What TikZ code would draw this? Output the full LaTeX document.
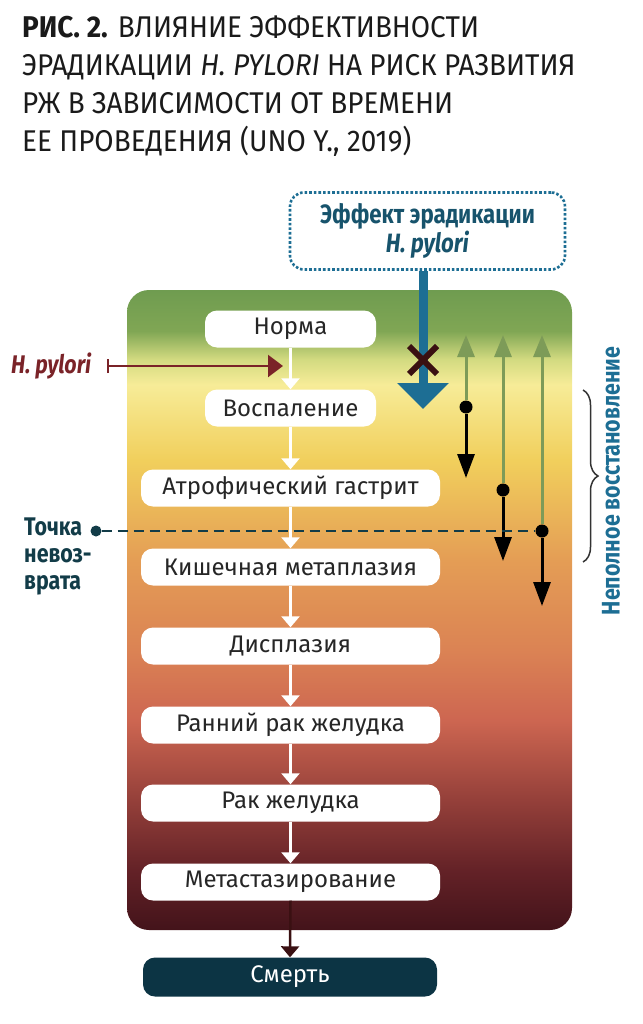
\documentclass[tikz,border=0pt]{standalone}
\usepackage{fontspec}
\setmainfont{Fira Sans}
\newfontfamily\narrowfont[FakeStretch=0.84]{Fira Sans}
\newfontfamily\titlefont[FakeStretch=0.93]{Fira Sans}
\usepackage{xcolor}
\usetikzlibrary{arrows.meta,positioning,shapes.misc,decorations.pathreplacing}
\definecolor{stageText}{HTML}{262626}
\definecolor{deathBlue}{HTML}{0C3444}
\definecolor{effectBlue}{HTML}{1D6E94}
\definecolor{labelTeal}{HTML}{17536C}
\definecolor{pyloriRed}{HTML}{7A2328}
\definecolor{crossBrown}{HTML}{3A1012}
\definecolor{recoverGreen}{HTML}{7D9B58}
\definecolor{pointTeal}{HTML}{123C48}
\definecolor{titleBlack}{HTML}{1A1A1A}
\pgfdeclareverticalshading{riskshade}{100bp}{%
  color(0bp)=(rgb,255:red,67;green,19;blue,26);
  color(25bp)=(rgb,255:red,67;green,19;blue,26);
  color(29.7bp)=(rgb,255:red,100;green,34;blue,39);
  color(35.2bp)=(rgb,255:red,149;green,64;blue,58);
  color(41.4bp)=(rgb,255:red,205;green,102;blue,81);
  color(46.9bp)=(rgb,255:red,219;green,131;blue,84);
  color(53.9bp)=(rgb,255:red,228;green,157;blue,85);
  color(61.7bp)=(rgb,255:red,241;green,207;blue,92);
  color(67.6bp)=(rgb,255:red,247;green,236;blue,152);
  color(69.6bp)=(rgb,255:red,210;green,218;blue,128);
  color(71.8bp)=(rgb,255:red,128;green,166;blue,84);
  color(75bp)=(rgb,255:red,111;green,156;blue,80);
  color(100bp)=(rgb,255:red,111;green,156;blue,80)}

\begin{document}
\begin{tikzpicture}[
    x=1pt,y=-1pt,
    stage/.style={rectangle,fill=white,rounded corners=12pt,
                  minimum width=299pt,minimum height=37pt,inner sep=0pt,
                  text=stageText,font=\fontsize{24}{28}\selectfont},
    death/.style={stage,fill=deathBlue,text=white,minimum width=294pt,
                  minimum height=39pt},
    flow/.style={-{Triangle[width=18pt,length=11pt]},line width=2.5pt,white},
    effect/.style={rectangle,draw=effectBlue,dotted,line width=2.6pt,
                   rounded corners=14pt,minimum width=275pt,minimum height=77pt,
                   align=center,text=labelTeal,
                   font=\narrowfont\bfseries\fontsize{26.5}{27}\selectfont},
    block/.style={-{Triangle[width=50pt,length=26pt]},line width=9pt,effectBlue},
    regain/.style={-{Triangle[width=17pt,length=22pt]},line width=3pt,recoverGreen},
    decline/.style={-{Triangle[width=17pt,length=24pt]},line width=3pt,black},
    pivot/.style={circle,fill=black,inner sep=0pt,minimum size=13pt},
    noreturn/.style={line width=2.5pt,pointTeal,dash pattern=on 10pt off 6pt},
    sidelbl/.style={font=\narrowfont\bfseries\fontsize{25.5}{27}\selectfont},
    curly/.style={decorate,decoration={brace,amplitude=15pt},line width=1.5pt,
                  black!80}
  ]
  \useasboundingbox (0,0) rectangle (642,1024);
  %% risk scale behind the stages
  \shade[shading=riskshade,rounded corners=22pt] (127,290) rectangle (572,930);
  %% title
  \node[anchor=north west,inner sep=0pt,align=left,text=titleBlack,
        font=\titlefont\fontsize{30}{38}\selectfont] (T) at (22,15.5)
        {\textbf{РИС. 2.} ВЛИЯНИЕ ЭФФЕКТИВНОСТИ\\
         ЭРАДИКАЦИИ \textit{H. PYLORI} НА РИСК РАЗВИТИЯ\\
         РЖ В ЗАВИСИМОСТИ ОТ ВРЕМЕНИ\\
         ЕЕ ПРОВЕДЕНИЯ (UNO Y., 2019)};
  %% stages
  \node[stage,minimum width=171pt] (S0) at (290.5,329) {Норма};
  \node[stage,minimum width=171pt] (S1) at (290.5,408) {Воспаление};
  \node[stage] (S2) at (290.5,488) {Атрофический гастрит};
  \node[stage] (S3) at (290.5,567) {Кишечная метаплазия};
  \node[stage] (S4) at (290.5,646) {Дисплазия};
  \node[stage] (S5) at (290.5,725) {Ранний рак желудка};
  \node[stage] (S6) at (290.5,803) {Рак желудка};
  \node[stage] (S7) at (290.5,882) {Метастазирование};
  \node[death] (S8) at (290,977) {Смерть};
  \foreach \a/\b in {S0/S1, S1/S2, S2/S3, S3/S4, S4/S5, S5/S6, S6/S7}
    \draw[flow] (\a.south) -- (\b.north);
  \draw[flow,crossBrown] (S7.south) -- (S8.north);
  %% H. pylori infection
  \node[sidelbl,text=pyloriRed,anchor=west,inner sep=0pt] (HP) at (11,366)
        {\textit{H. pylori}};
  \coordinate (HPend) at (283,366);
  \draw[{Bar[width=14pt]}-{Triangle[width=22pt,length=15pt]},line width=2.5pt,
        pyloriRed,shorten <=15pt] (HP.east) -- (HPend);
  %% eradication effect
  \node[effect] (E) at (427.5,231) {Эффект эрадикации\\\textit{H. pylori}};
  \coordinate (Eend) at (423,409);
  \draw[block] (E.south -| Eend) -- (Eend);
  \node[cross out,draw=crossBrown,line width=6pt,minimum size=22pt,
        inner sep=0pt] (X) at (423,360) {};
  %% recovery after eradication
  \node[pivot] (D1) at (466,407) {};
  \node[pivot] (D2) at (503,490) {};
  \node[pivot] (D3) at (542,531) {};
  \foreach \d/\x/\yg/\yb in {D1/466/335/478, D2/503/335/561, D3/542/335/606} {
    \coordinate (G\d) at (\x,\yg);
    \coordinate (B\d) at (\x,\yb);
    \draw[regain] (\d) -- (G\d);
    \draw[decline] (\d) -- (B\d);
  }
  %% point of no return
  \node[pivot,fill=pointTeal,minimum size=11pt] (P) at (96,531) {};
  \draw[noreturn] (P) -- (D3);
  \node[sidelbl,text=pointTeal,anchor=west,align=left,inner sep=0pt] (PL)
        at (24,556) {Точка\\невоз-\\врата};
  %% incomplete recovery
  \coordinate (BrTop) at (583,390);
  \coordinate (BrBot) at (583,562);
  \draw[curly] (BrTop) -- (BrBot);
  \node[sidelbl,text=effectBlue,rotate=90] (IR) at (611,481)
        {Неполное восстановление};
\end{tikzpicture}
\end{document}
